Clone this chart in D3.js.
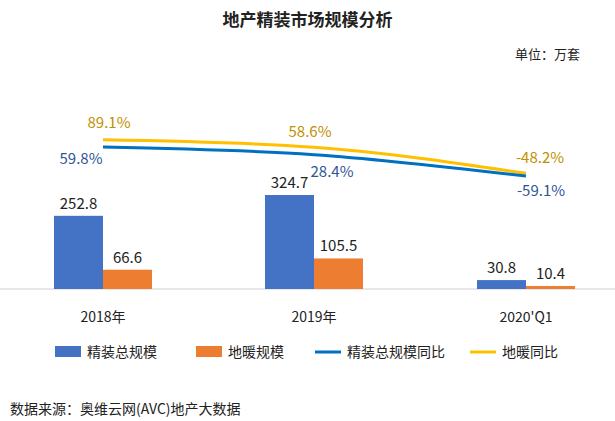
<!DOCTYPE html>
<html><head><meta charset="utf-8">
<script src="https://cdn.jsdelivr.net/npm/d3@7"></script>
<style>body{margin:0;background:#fff;font-family:"Noto Sans CJK SC","Noto Sans",sans-serif;}</style>
</head><body><div id="chart"></div>
<script>
const categories = ["2018年", "2019年", "2020'Q1"];
const totalSize = [252.8, 324.7, 30.8];
const heatSize = [66.6, 105.5, 10.4];
const totalYoY = [59.8, 28.4, -59.1];
const heatYoY = [89.1, 58.6, -48.2];

const W = 615, H = 421;
const svg = d3.select("#chart").append("svg").attr("width", W).attr("height", H);

svg.append("text").attr("x", W / 2).attr("y", 26).attr("text-anchor", "middle")
    .attr("font-size", 17).attr("font-weight", "bold").attr("fill", "#222").text("地产精装市场规模分析");
svg.append("text").attr("x", 580).attr("y", 59).attr("text-anchor", "end")
    .attr("font-size", 13).attr("fill", "#222").text("单位：万套");

const centers = [103, 314, 526];
const baseY = 289;
const y = d3.scaleLinear().domain([0, 324.7]).range([baseY, 195]);
const yl = d3.scaleLinear().domain([-59.1, 59.8]).range([176, 147]);
const bw = 49;

svg.append("line").attr("x1", 0).attr("x2", W).attr("y1", baseY).attr("y2", baseY)
    .attr("stroke", "#d0d0d0");

categories.forEach((c, i) => {
    const cx = centers[i];
    svg.append("rect").attr("x", cx - bw).attr("y", y(totalSize[i])).attr("width", bw)
        .attr("height", baseY - y(totalSize[i])).attr("fill", "#4472C4");
    svg.append("rect").attr("x", cx).attr("y", y(heatSize[i])).attr("width", bw)
        .attr("height", baseY - y(heatSize[i])).attr("fill", "#ED7D31");
    svg.append("text").attr("x", cx - bw / 2).attr("y", y(totalSize[i]) - 7).attr("text-anchor", "middle")
        .attr("font-size", 15).attr("fill", "#222").text(totalSize[i]);
    svg.append("text").attr("x", cx + bw / 2).attr("y", y(heatSize[i]) - 7).attr("text-anchor", "middle")
        .attr("font-size", 15).attr("fill", "#222").text(heatSize[i]);
    svg.append("text").attr("x", cx).attr("y", 322).attr("text-anchor", "middle")
        .attr("font-size", 14).attr("fill", "#222").text(c);
});

const line = d3.line().x((d, i) => centers[i]).y(d => yl(d)).curve(d3.curveMonotoneX);
svg.append("path").datum(heatYoY).attr("d", line).attr("fill", "none")
    .attr("stroke", "#FFC000").attr("stroke-width", 3);
svg.append("path").datum(totalYoY).attr("d", line).attr("fill", "none")
    .attr("stroke", "#0070C0").attr("stroke-width", 3);

const tOff = [[-22, 17], [18, 22], [15, 20]];
const hOff = [[6, -12], [-4, -10], [14, -10]];
totalYoY.forEach((v, i) => {
    svg.append("text").attr("x", centers[i] + tOff[i][0]).attr("y", yl(v) + tOff[i][1])
        .attr("text-anchor", "middle").attr("font-size", 15).attr("fill", "#2F5597").text(v.toFixed(1) + "%");
});
heatYoY.forEach((v, i) => {
    svg.append("text").attr("x", centers[i] + hOff[i][0]).attr("y", yl(v) + hOff[i][1])
        .attr("text-anchor", "middle").attr("font-size", 15).attr("fill", "#BF9000").text(v.toFixed(1) + "%");
});

// legend
const legend = [
    {label: "精装总规模", type: "rect", color: "#4472C4", x: 55},
    {label: "地暖规模", type: "rect", color: "#ED7D31", x: 196},
    {label: "精装总规模同比", type: "line", color: "#0070C0", x: 315},
    {label: "地暖同比", type: "line", color: "#FFC000", x: 470}
];
legend.forEach(d => {
    if (d.type === "rect") {
        svg.append("rect").attr("x", d.x).attr("y", 346).attr("width", 26).attr("height", 11).attr("fill", d.color);
    } else {
        svg.append("line").attr("x1", d.x).attr("x2", d.x + 26).attr("y1", 352).attr("y2", 352)
            .attr("stroke", d.color).attr("stroke-width", 3);
    }
    svg.append("text").attr("x", d.x + 32).attr("y", 357).attr("font-size", 14).attr("fill", "#222").text(d.label);
});

svg.append("text").attr("x", 10).attr("y", 414).attr("font-size", 14).attr("fill", "#222")
    .text("数据来源：奥维云网(AVC)地产大数据");
</script></body></html>
